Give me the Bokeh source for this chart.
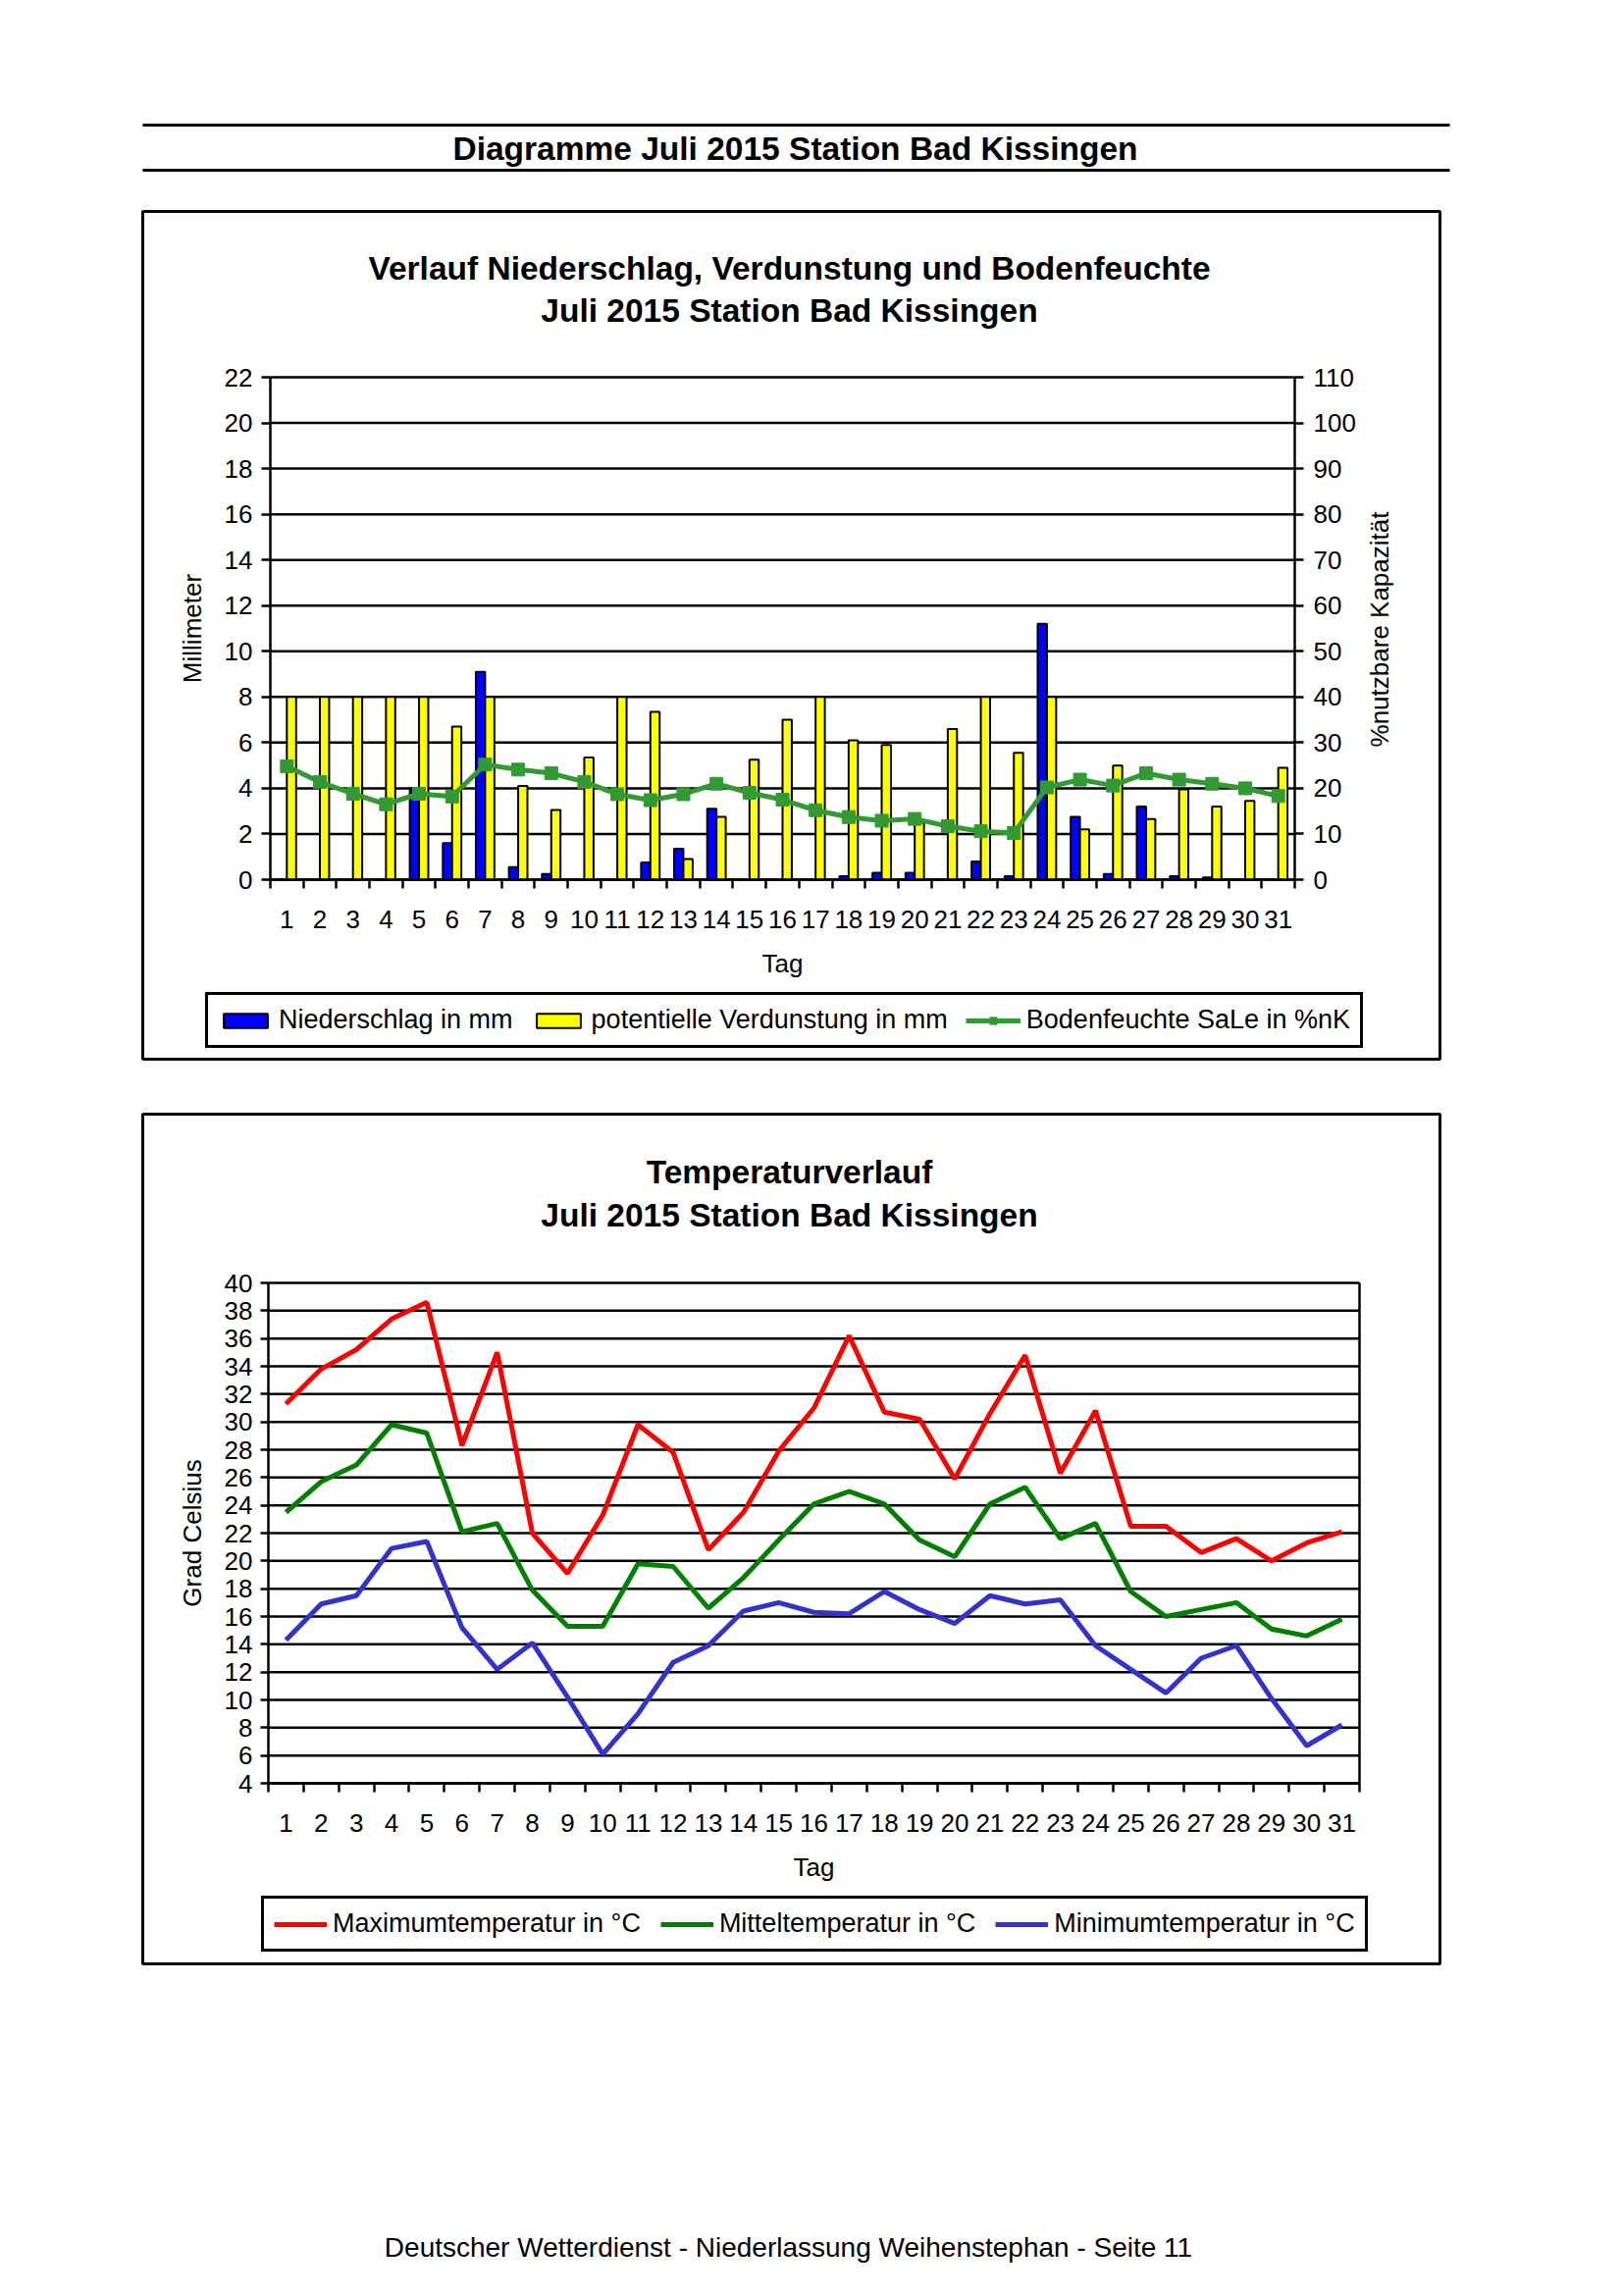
import math
from bokeh.plotting import figure
from bokeh.models import (Range1d, LinearAxis, FixedTicker, Label,
                          Legend, LegendItem, ColumnDataSource)
from bokeh.transform import dodge
from bokeh.embed import file_html
from bokeh.resources import INLINE

FONT = "Liberation Sans"
PAGE_W = 1653

# ---------------- data ----------------
days = list(range(1, 32))

niederschlag = [0, 0, 0, 0, 4.0, 1.6, 9.1, 0.55, 0.25, 0, 0, 0.75, 1.35, 3.1, 0, 0,
                0, 0.15, 0.3, 0.3, 0, 0.8, 0.15, 11.2, 2.75, 0.25, 3.2, 0.15, 0.1, 0, 0]
verdunstung = [8, 8, 8, 8, 8, 6.7, 8, 4.1, 3.05, 5.35, 8, 7.35, 0.9, 2.75, 5.25, 7.0,
               8, 6.1, 5.9, 2.5, 6.6, 8, 5.55, 8, 2.2, 5.0, 2.65, 3.95, 3.2, 3.45, 4.9]
bodenfeuchte = [24.8, 21.4, 18.8, 16.5, 18.8, 18.2, 25.2, 24.1, 23.3, 21.4, 18.7, 17.4,
                18.7, 21.0, 19.0, 17.5, 15.2, 13.7, 12.9, 13.3, 11.7, 10.6, 10.2, 20.2,
                21.9, 20.6, 23.3, 21.9, 21.0, 20.0, 18.3]

tmax = [31.3, 33.8, 35.2, 37.4, 38.6, 28.3, 35.0, 22.0, 19.1, 23.3, 29.8, 27.8, 20.8,
        23.5, 27.9, 31.0, 36.2, 30.7, 30.2, 25.9, 30.6, 34.8, 26.3, 30.8, 22.5, 22.5,
        20.6, 21.6, 20.0, 21.3, 22.1]
tmit = [23.5, 25.7, 26.9, 29.8, 29.2, 22.1, 22.7, 17.9, 15.3, 15.3, 19.8, 19.6, 16.6,
        18.8, 21.5, 24.1, 25.0, 24.1, 21.5, 20.3, 24.1, 25.3, 21.6, 22.7, 17.8, 16.0,
        16.5, 17.0, 15.1, 14.6, 15.8]
tmin = [14.3, 16.9, 17.5, 20.9, 21.4, 15.2, 12.2, 14.1, 10.2, 6.1, 9.0, 12.7, 13.9,
        16.4, 17.0, 16.3, 16.2, 17.8, 16.5, 15.5, 17.5, 16.9, 17.2, 13.9, 12.2, 10.5,
        13.0, 13.9, 10.1, 6.7, 8.2]

mm_ticks = list(range(0, 23, 2))
pct_ticks = list(range(0, 111, 10))
temp_ticks = list(range(4, 41, 2))

PAGE_TITLE = "Diagramme Juli 2015 Station Bad Kissingen"
TITLE1 = "Verlauf Niederschlag, Verdunstung und Bodenfeuchte"
TITLE2 = "Temperaturverlauf"
SUBTITLE = "Juli 2015 Station Bad Kissingen"
FOOTER = "Deutscher Wetterdienst - Niederlassung Weihenstephan - Seite 11"
RIGHT_LABEL = "%nutzbare Kapazität"

# ---------------- layout constants (page pixels) ----------------
BOX_LEFT, BOX_W, PAD = 145, 1322, 2
X_FIRST, X_LAST = days[0] - 0.5, days[-1] + 0.5
LINE_W = 2.5


def span_range(v0, v1, p0, p1, size):
    """range whose value v0 lies at pixel p0 and v1 at pixel p1 of a frame `size` px long"""
    s = (v1 - v0) / (p1 - p0)
    start = v0 - p0 * s
    return Range1d(start, start + size * s)


# ---------------- helpers ----------------
def plain_fig(h):
    p = figure(width=PAGE_W, height=h, x_range=Range1d(0, PAGE_W), y_range=Range1d(h, 0),
               output_backend="svg", toolbar_location=None, min_border=0,
               x_axis_location=None, y_axis_location=None)
    p.grid.visible = False
    p.outline_line_color = None
    p.background_fill_color = "white"
    p.border_fill_color = "white"
    return p


def chart_fig(h, xr, yr):
    p = figure(width=BOX_W + 2 * PAD, height=h + 2 * PAD, x_range=xr, y_range=yr,
               output_backend="svg", toolbar_location=None, min_border=PAD,
               margin=(0, 0, 0, BOX_LEFT - PAD))
    p.outline_line_color = "black"
    p.outline_line_width = 3
    p.background_fill_color = "white"
    p.border_fill_color = "white"
    p.grid.visible = False
    return p


def style_axis(ax, tick_out=9, standoff=8, label_standoff=15):
    ax.axis_line_color = "black"
    ax.axis_line_width = LINE_W
    ax.major_tick_line_color = "black"
    ax.major_tick_line_width = LINE_W
    ax.major_tick_in = 0
    ax.major_tick_out = tick_out
    ax.minor_tick_line_color = None
    ax.major_label_text_font = FONT
    ax.major_label_text_font_size = "26px"
    ax.major_label_text_color = "black"
    ax.major_label_standoff = standoff
    ax.axis_label_text_font = FONT
    ax.axis_label_text_font_size = "26px"
    ax.axis_label_text_font_style = "normal"
    ax.axis_label_text_color = "black"
    ax.axis_label_standoff = label_standoff


def setup_xaxis(p, y_at):
    xa = p.xaxis[0]
    style_axis(xa, tick_out=0, standoff=22, label_standoff=18)
    xa.fixed_location = y_at
    xa.bounds = (X_FIRST, X_LAST)
    xa.ticker = FixedTicker(ticks=days, minor_ticks=[d - 0.5 for d in days] + [X_LAST])
    xa.major_tick_line_color = None
    xa.minor_tick_line_color = "black"
    xa.minor_tick_line_width = LINE_W
    xa.minor_tick_in = 0
    xa.minor_tick_out = 9
    xa.axis_label = "Tag"


def setup_yaxis(ax, ticks, x_at, label, tick_out, standoff, label_standoff):
    style_axis(ax, tick_out=tick_out, standoff=standoff, label_standoff=label_standoff)
    ax.fixed_location = x_at
    ax.bounds = (ticks[0], ticks[-1])
    ax.ticker = FixedTicker(ticks=ticks)
    ax.axis_label = label


def add_grid(p, ticks):
    p.segment(x0=X_FIRST, x1=X_LAST, y0=ticks, y1=ticks, line_color="black", line_width=LINE_W)


def add_text(p, sx, sy, text, size="33.5px", bold=True, angle=0.0):
    p.add_layout(Label(x=sx, y=sy, x_units="screen", y_units="screen", text=text,
                       text_align="center", text_baseline="middle", text_font=FONT,
                       text_font_size=size, text_font_style="bold" if bold else "normal",
                       text_color="black", angle=angle))


def make_legend(items, loc, glyph_w, spacing, padding):
    return Legend(items=items, orientation="horizontal", location=loc,
                  border_line_color="black", border_line_width=3, border_line_alpha=1,
                  label_text_font=FONT, label_text_font_size="27px", label_text_color="black",
                  glyph_width=glyph_w, glyph_height=18, label_standoff=6,
                  spacing=spacing, padding=padding, margin=0, background_fill_alpha=1,
                  background_fill_color="white")


# ---------------- head ----------------
head = plain_fig(213)
head.segment(x0=[145, 145], y0=[127, 173], x1=[1477, 1477], y1=[127, 173],
             line_color="black", line_width=3)
head.add_layout(Label(x=810, y=151, text=PAGE_TITLE, text_align="center", text_baseline="middle",
                      text_font=FONT, text_font_size="33.5px", text_font_style="bold",
                      text_color="black"))

# ---------------- top chart ----------------
# box 145..1467 x 215..1079 ; data area 275..1319 x 384..896
T_BOT, T_H = 1079, 864
xr1 = span_range(X_FIRST, X_LAST, 275 - BOX_LEFT, 1319 - BOX_LEFT, BOX_W)
yr1 = span_range(mm_ticks[0], mm_ticks[-1], T_BOT - 896, T_BOT - 384, T_H)
pr1 = span_range(pct_ticks[0], pct_ticks[-1], T_BOT - 896, T_BOT - 384, T_H)

top = chart_fig(T_H, xr1, yr1)
top.extra_y_ranges = {"pct": pr1}

src1 = ColumnDataSource(dict(day=days, nied=niederschlag, verd=verdunstung, boden=bodenfeuchte))

setup_xaxis(top, mm_ticks[0])
setup_yaxis(top.yaxis[0], mm_ticks, X_FIRST, "Millimeter", 9, 9, 15)
ry = LinearAxis(y_range_name="pct")
setup_yaxis(ry, pct_ticks, X_LAST, None, 9, 10, 9)
top.add_layout(ry, "right")

add_grid(top, mm_ticks)
r_n = top.vbar(x=dodge("day", -0.14, range=top.x_range), top="nied", width=0.28, source=src1,
               fill_color="#0000FF", line_color="black", line_width=2)
r_v = top.vbar(x=dodge("day", 0.14, range=top.x_range), top="verd", width=0.28, source=src1,
               fill_color="#FFFF00", line_color="black", line_width=2)
GREEN = "#339933"
r_bl = top.line(x="day", y="boden", source=src1, y_range_name="pct", line_color=GREEN, line_width=5)
r_bs = top.scatter(x="day", y="boden", source=src1, y_range_name="pct", marker="square", size=13,
                   fill_color=GREEN, line_color=GREEN)

leg1 = make_legend([LegendItem(label="Niederschlag in mm", renderers=[r_n]),
                    LegendItem(label="potentielle Verdunstung in mm", renderers=[r_v]),
                    LegendItem(label="Bodenfeuchte SaLe in %nK", renderers=[r_bl, r_bs])],
                   (209 - BOX_LEFT, T_BOT - 1068), 56, 18, 10)
top.add_layout(leg1)

add_text(top, 804 - BOX_LEFT, T_BOT - 273, TITLE1)
add_text(top, 804 - BOX_LEFT, T_BOT - 316, SUBTITLE)
add_text(top, 1405 - BOX_LEFT, T_BOT - 641, RIGHT_LABEL, size="26px", bold=False, angle=math.pi / 2)

# ---------------- spacer ----------------
gap = plain_fig(52)

# ---------------- bottom chart ----------------
# box 145..1467 x 1135..2001 ; data area 273..1385 x 1307..1817
B_BOT, B_H = 2001, 866
xr2 = span_range(X_FIRST, X_LAST, 273 - BOX_LEFT, 1385 - BOX_LEFT, BOX_W)
yr2 = span_range(temp_ticks[0], temp_ticks[-1], B_BOT - 1817, B_BOT - 1307, B_H)

bot = chart_fig(B_H, xr2, yr2)
src2 = ColumnDataSource(dict(day=days, tmax=tmax, tmit=tmit, tmin=tmin))

setup_xaxis(bot, temp_ticks[0])
setup_yaxis(bot.yaxis[0], temp_ticks, X_FIRST, "Grad Celsius", 8, 8, 15)
rb = LinearAxis()
setup_yaxis(rb, temp_ticks, X_LAST, None, 0, 0, 0)
rb.ticker = FixedTicker(ticks=[])
bot.add_layout(rb, "right")

add_grid(bot, temp_ticks)
r_max = bot.line(x="day", y="tmax", source=src2, line_color="#FF0000", line_width=5)
r_mit = bot.line(x="day", y="tmit", source=src2, line_color="#008000", line_width=5)
r_min = bot.line(x="day", y="tmin", source=src2, line_color="#3333CC", line_width=5)

leg2 = make_legend([LegendItem(label="Maximumtemperatur in °C", renderers=[r_max]),
                    LegendItem(label="Mitteltemperatur in °C", renderers=[r_mit]),
                    LegendItem(label="Minimumtemperatur in °C", renderers=[r_min])],
                   (266 - BOX_LEFT, B_BOT - 1989), 54, 20, 10)
bot.add_layout(leg2)

add_text(bot, 804 - BOX_LEFT, B_BOT - 1194, TITLE2)
add_text(bot, 804 - BOX_LEFT, B_BOT - 1238, SUBTITLE)

# ---------------- footer ----------------
foot = plain_fig(337)
foot.add_layout(Label(x=803, y=287, text=FOOTER, text_align="center", text_baseline="middle",
                      text_font=FONT, text_font_size="28px", text_color="black"))

open("out.html", "w").write(file_html([head, top, gap, bot, foot], INLINE))
